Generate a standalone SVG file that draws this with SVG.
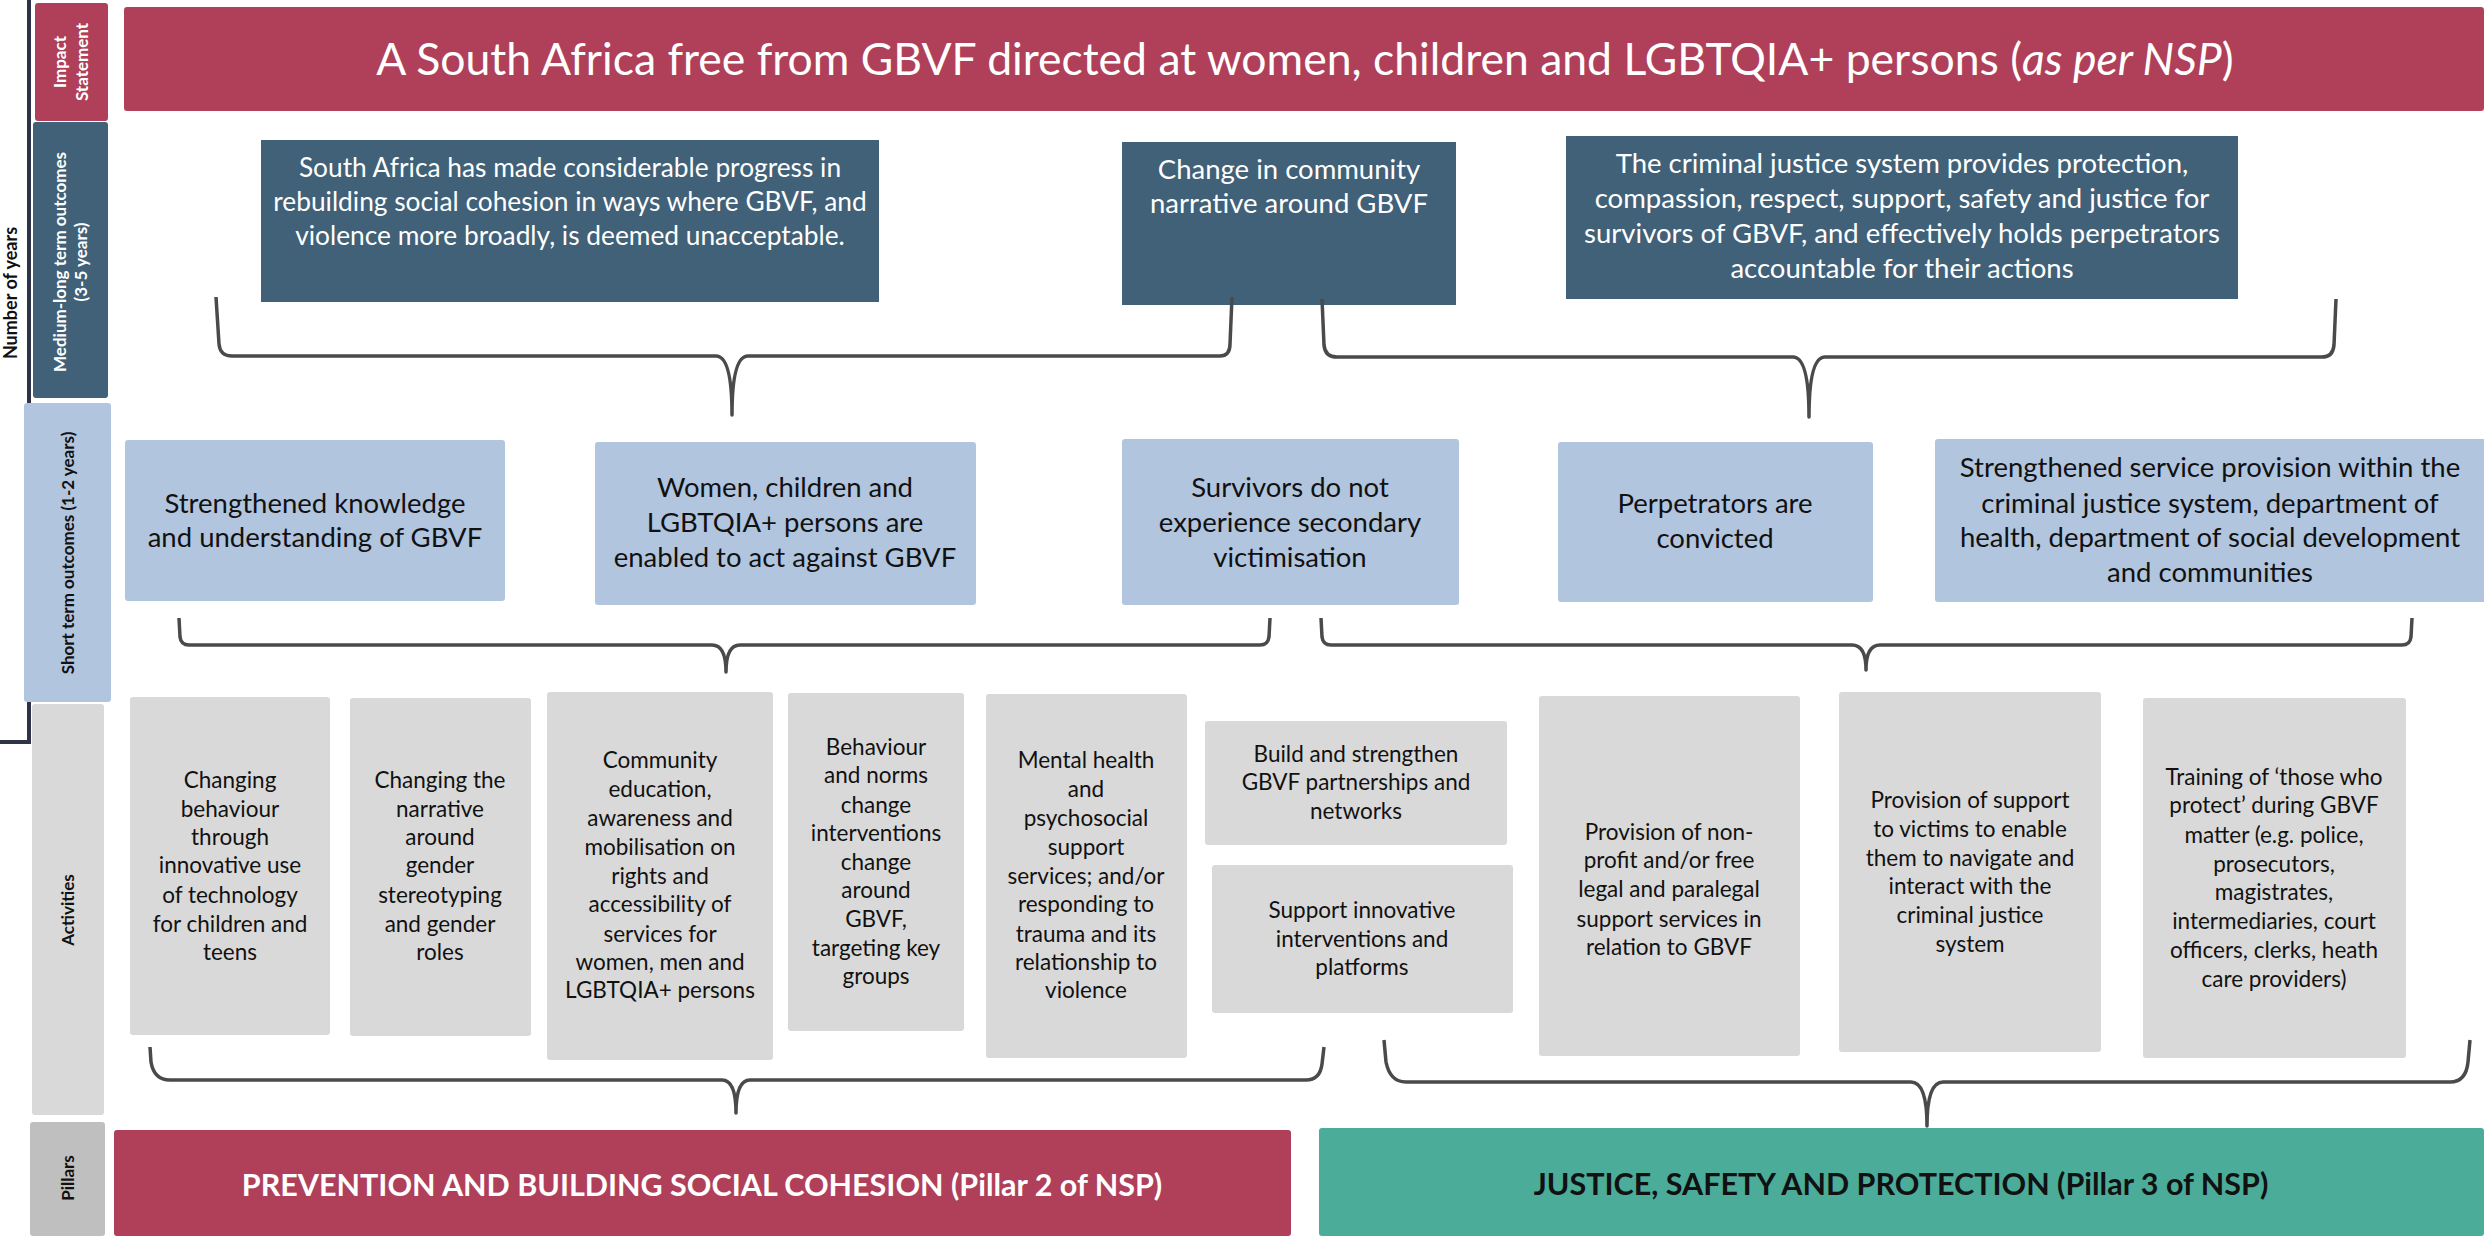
<svg xmlns="http://www.w3.org/2000/svg" width="2484" height="1239" viewBox="0 0 2484 1239">
<style>
text{font-family:Lato,"Liberation Sans",sans-serif;}
.lab{font-weight:700;font-size:17px;text-anchor:middle;}
.labw{fill:#ffffff;}
.labk{fill:#111111;}
.mid{fill:#406178;}
.short{fill:#B1C5DF;}
.act{fill:#D9D9D9;}
.red{fill:#B03F5A;}
.teal{fill:#4BAC9A;}
.tw{fill:#ffffff;font-size:27.5px;text-anchor:middle;}
.tk{fill:#111111;font-size:27.5px;text-anchor:middle;}
.ta{fill:#111111;font-size:22.5px;text-anchor:middle;}
.brace{fill:none;stroke:#4A4A4A;stroke-width:3.5;stroke-linejoin:round;}
</style>

<!-- axis -->
<g id="axis">
<path d="M29,0 L29,742 L0,742" fill="none" stroke="#2F3347" stroke-width="4"/>
<text class="lab labk" style="font-size:18px" transform="translate(17,293) rotate(-90)">Number of years</text>
</g>

<!-- row labels -->
<g id="label-impact">
<rect x="35" y="3" width="73" height="118" rx="3" class="red"/>
<text class="lab labw" transform="translate(66,62) rotate(-90)">Impact</text>
<text class="lab labw" transform="translate(88,62) rotate(-90)">Statement</text>
</g>
<g id="label-medium">
<rect x="33" y="122" width="75" height="276" rx="3" class="mid"/>
<text class="lab labw" transform="translate(66,262) rotate(-90)">Medium-long term outcomes</text>
<text class="lab labw" transform="translate(87,262) rotate(-90)">(3-5 years)</text>
</g>
<g id="label-short">
<rect x="24" y="403" width="87" height="299" rx="3" class="short"/>
<text class="lab labk" transform="translate(74,553) rotate(-90)">Short term outcomes (1-2 years)</text>
</g>
<g id="label-activities">
<rect x="32" y="704" width="72" height="411" rx="3" class="act"/>
<text class="lab labk" transform="translate(74,910) rotate(-90)">Activities</text>
</g>
<g id="label-pillars">
<rect x="30" y="1122" width="75" height="114" rx="3" fill="#BFBFBF"/>
<text class="lab labk" transform="translate(74,1178) rotate(-90)">Pillars</text>
</g>

<!-- impact -->
<g id="impact">
<rect x="124" y="7" width="2360" height="104" rx="3" class="red"/>
<text x="1305" y="75" fill="#ffffff" font-size="44.5" text-anchor="middle">A South Africa free from GBVF directed at women, children and LGBTQIA+ persons (<tspan font-style="italic">as per NSP</tspan>)</text>
</g>

<!-- medium-long term outcomes -->
<g id="m1">
<rect x="261" y="140" width="618" height="162" class="mid"/>
<text class="tw" style="font-size:26.3px"><tspan x="570" y="177">South Africa has made considerable progress in</tspan><tspan x="570" y="211">rebuilding social cohesion in ways where GBVF, and</tspan><tspan x="570" y="245">violence more broadly, is deemed unacceptable.</tspan></text>
</g>
<g id="m2">
<rect x="1122" y="142" width="334" height="163" class="mid"/>
<text class="tw"><tspan x="1289" y="179">Change in community</tspan><tspan x="1289" y="213">narrative around GBVF</tspan></text>
</g>
<g id="m3">
<rect x="1566" y="136" width="672" height="163" class="mid"/>
<text class="tw"><tspan x="1902" y="173">The criminal justice system provides protection,</tspan><tspan x="1902" y="208">compassion, respect, support, safety and justice for</tspan><tspan x="1902" y="243">survivors of GBVF, and effectively holds perpetrators</tspan><tspan x="1902" y="278">accountable for their actions</tspan></text>
</g>

<!-- short term outcomes -->
<g id="s1">
<rect x="125" y="440" width="380" height="161" rx="3" class="short"/>
<text class="tk"><tspan x="315" y="513">Strengthened knowledge</tspan><tspan x="315" y="547">and understanding of GBVF</tspan></text>
</g>
<g id="s2">
<rect x="595" y="442" width="381" height="163" rx="3" class="short"/>
<text class="tk"><tspan x="785" y="497">Women, children and</tspan><tspan x="785" y="532">LGBTQIA+ persons are</tspan><tspan x="785" y="567">enabled to act against GBVF</tspan></text>
</g>
<g id="s3">
<rect x="1122" y="439" width="337" height="166" rx="3" class="short"/>
<text class="tk"><tspan x="1290" y="497">Survivors do not</tspan><tspan x="1290" y="532">experience secondary</tspan><tspan x="1290" y="567">victimisation</tspan></text>
</g>
<g id="s4">
<rect x="1558" y="442" width="315" height="160" rx="3" class="short"/>
<text class="tk"><tspan x="1715" y="513">Perpetrators are</tspan><tspan x="1715" y="548">convicted</tspan></text>
</g>
<g id="s5">
<rect x="1935" y="439" width="552" height="163" rx="3" class="short"/>
<text class="tk"><tspan x="2210" y="477">Strengthened service provision within the</tspan><tspan x="2210" y="513">criminal justice system, department of</tspan><tspan x="2210" y="547">health, department of social development</tspan><tspan x="2210" y="582">and communities</tspan></text>
</g>

<!-- activities -->
<g id="a1">
<rect x="130" y="697" width="200" height="338" rx="3" class="act"/>
<text class="ta"><tspan x="230" y="788">Changing</tspan><tspan x="230" y="817">behaviour</tspan><tspan x="230" y="845">through</tspan><tspan x="230" y="873">innovative use</tspan><tspan x="230" y="903">of technology</tspan><tspan x="230" y="932">for children and</tspan><tspan x="230" y="960">teens</tspan></text>
</g>
<g id="a2">
<rect x="350" y="698" width="181" height="338" rx="3" class="act"/>
<text class="ta"><tspan x="440" y="788">Changing the</tspan><tspan x="440" y="817">narrative</tspan><tspan x="440" y="845">around</tspan><tspan x="440" y="873">gender</tspan><tspan x="440" y="903">stereotyping</tspan><tspan x="440" y="932">and gender</tspan><tspan x="440" y="960">roles</tspan></text>
</g>
<g id="a3">
<rect x="547" y="692" width="226" height="368" rx="3" class="act"/>
<text class="ta"><tspan x="660" y="768">Community</tspan><tspan x="660" y="797">education,</tspan><tspan x="660" y="826">awareness and</tspan><tspan x="660" y="855">mobilisation on</tspan><tspan x="660" y="884">rights and</tspan><tspan x="660" y="912">accessibility of</tspan><tspan x="660" y="942">services for</tspan><tspan x="660" y="970">women, men and</tspan><tspan x="660" y="998">LGBTQIA+ persons</tspan></text>
</g>
<g id="a4">
<rect x="788" y="693" width="176" height="338" rx="3" class="act"/>
<text class="ta"><tspan x="876" y="755">Behaviour</tspan><tspan x="876" y="783">and norms</tspan><tspan x="876" y="813">change</tspan><tspan x="876" y="841">interventions</tspan><tspan x="876" y="870">change</tspan><tspan x="876" y="898">around</tspan><tspan x="876" y="927">GBVF,</tspan><tspan x="876" y="956">targeting key</tspan><tspan x="876" y="984">groups</tspan></text>
</g>
<g id="a5">
<rect x="986" y="694" width="201" height="364" rx="3" class="act"/>
<text class="ta"><tspan x="1086" y="768">Mental health</tspan><tspan x="1086" y="797">and</tspan><tspan x="1086" y="826">psychosocial</tspan><tspan x="1086" y="855">support</tspan><tspan x="1086" y="884">services; and/or</tspan><tspan x="1086" y="912">responding to</tspan><tspan x="1086" y="942">trauma and its</tspan><tspan x="1086" y="970">relationship to</tspan><tspan x="1086" y="998">violence</tspan></text>
</g>
<g id="a6">
<rect x="1205" y="721" width="302" height="124" rx="3" class="act"/>
<text class="ta"><tspan x="1356" y="762">Build and strengthen</tspan><tspan x="1356" y="790">GBVF partnerships and</tspan><tspan x="1356" y="819">networks</tspan></text>
</g>
<g id="a7">
<rect x="1212" y="865" width="301" height="148" rx="3" class="act"/>
<text class="ta"><tspan x="1362" y="918">Support innovative</tspan><tspan x="1362" y="947">interventions and</tspan><tspan x="1362" y="975">platforms</tspan></text>
</g>
<g id="a8">
<rect x="1539" y="696" width="261" height="360" rx="3" class="act"/>
<text class="ta"><tspan x="1669" y="840">Provision of non-</tspan><tspan x="1669" y="868">profit and/or free</tspan><tspan x="1669" y="897">legal and paralegal</tspan><tspan x="1669" y="927">support services in</tspan><tspan x="1669" y="955">relation to GBVF</tspan></text>
</g>
<g id="a9">
<rect x="1839" y="692" width="262" height="360" rx="3" class="act"/>
<text class="ta"><tspan x="1970" y="808">Provision of support</tspan><tspan x="1970" y="837">to victims to enable</tspan><tspan x="1970" y="866">them to navigate and</tspan><tspan x="1970" y="894">interact with the</tspan><tspan x="1970" y="923">criminal justice</tspan><tspan x="1970" y="952">system</tspan></text>
</g>
<g id="a10">
<rect x="2143" y="698" width="263" height="360" rx="3" class="act"/>
<text class="ta"><tspan x="2274" y="785">Training of ‘those who</tspan><tspan x="2274" y="813">protect’ during GBVF</tspan><tspan x="2274" y="843">matter (e.g. police,</tspan><tspan x="2274" y="872">prosecutors,</tspan><tspan x="2274" y="900">magistrates,</tspan><tspan x="2274" y="929">intermediaries, court</tspan><tspan x="2274" y="958">officers, clerks, heath</tspan><tspan x="2274" y="987">care providers)</tspan></text>
</g>

<!-- pillars -->
<g id="pillar2">
<rect x="114" y="1130" width="1177" height="106" rx="3" class="red"/>
<text x="702" y="1196" fill="#ffffff" font-size="30.5" font-weight="700" text-anchor="middle">PREVENTION AND BUILDING SOCIAL COHESION (Pillar 2 of NSP)</text>
</g>
<g id="pillar3">
<rect x="1319" y="1128" width="1165" height="108" rx="3" class="teal"/>
<text x="1901" y="1195" fill="#111111" font-size="30.5" font-weight="700" text-anchor="middle">JUSTICE, SAFETY AND PROTECTION (Pillar 3 of NSP)</text>
</g>

<!-- connectors (braces) -->
<g id="connectors" class="brace">
<path d="M216,297 L219,344 Q220,356 232,356 L716,356 Q732,356 732,415 Q732,356 748,356 L1220,356 Q1230,356 1230,344 L1232,297"/>
<path d="M1322,299 L1324,345 Q1325,357 1337,357 L1793,357 Q1809,357 1809,417 Q1809,357 1825,357 L2322,357 Q2333,357 2334,345 L2336,299"/>
<path d="M179,618 L180,637 Q181,645 189,645 L712,645 Q726,645 726,672 Q726,645 740,645 L1260,645 Q1268,645 1269,637 L1270,618"/>
<path d="M1321,618 L1322,637 Q1323,645 1331,645 L1852,645 Q1866,645 1866,670 Q1866,645 1880,645 L2402,645 Q2410,645 2411,637 L2412,618"/>
<path d="M150,1047 L151,1062 Q154,1080 170,1080 L722,1080 Q736,1080 736,1113 Q736,1080 750,1080 L1306,1080 Q1320,1080 1322,1064 L1324,1047"/>
<path d="M1384,1040 L1386,1062 Q1390,1082 1406,1082 L1911,1082 Q1927,1082 1927,1126 Q1927,1082 1943,1082 L2450,1082 Q2466,1082 2468,1062 L2470,1040"/>
</g>
</svg>
